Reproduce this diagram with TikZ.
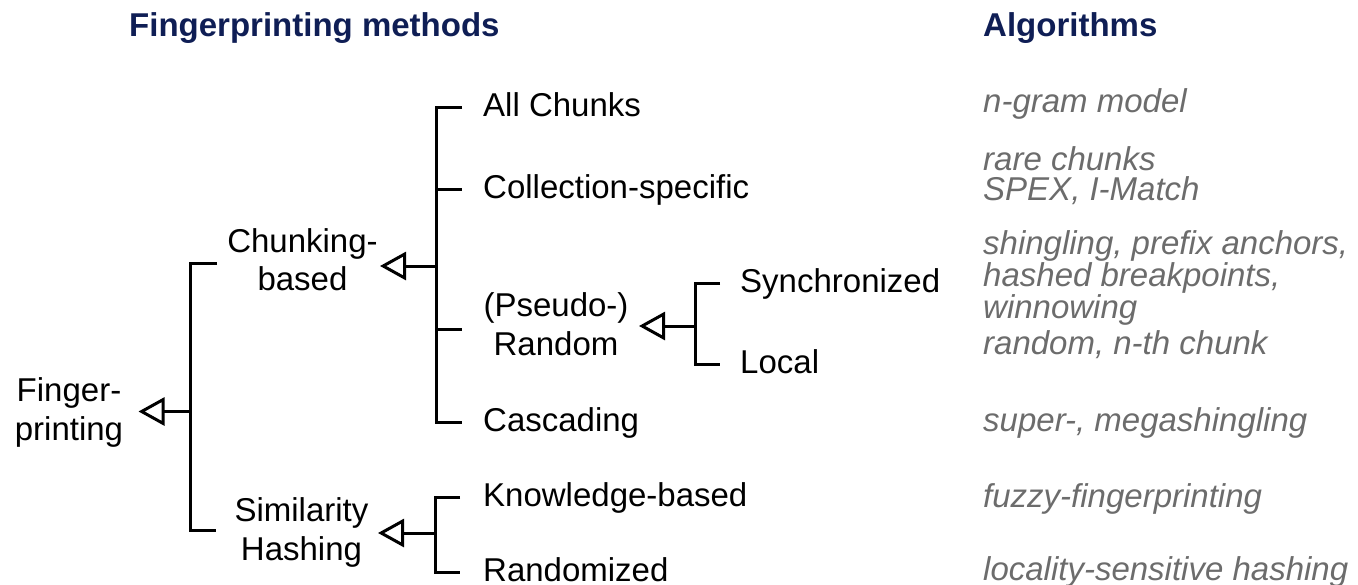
\documentclass[tikz,border=0pt]{standalone}
\usepackage{fontspec}
\setmainfont{Liberation Sans}
\usetikzlibrary{arrows.meta}
\definecolor{navy}{RGB}{15,30,85}
\definecolor{algo}{RGB}{108,108,108}
\begin{document}
\begin{tikzpicture}[x=1pt,y=-1pt,
  item/.style={anchor=west,inner sep=0pt,font=\fontsize{33}{38.3}\selectfont,text height=19pt,text depth=0pt},
  group/.style={anchor=base,inner sep=0pt,align=center,font=\fontsize{33}{38.3}\selectfont},
  algtxt/.style={anchor=base west,inner sep=0pt,align=left,text=algo,font=\fontsize{33}{29.8}\selectfont\itshape},
  title/.style={anchor=base west,inner sep=0pt,text=navy,font=\fontsize{33}{38}\selectfont\bfseries},
  br/.style={line width=3pt,line join=miter},
  arr/.style={line width=3pt,-{Triangle[open,length=26pt,width=28pt,line width=3pt]}}]
\useasboundingbox (0,0) rectangle (1358,584);

% titles
\node[title] (t1) at (129,36) {Fingerprinting methods};
\node[title] (t2) at (983,36) {Algorithms};

% method nodes (base = baseline of the last line)
\node[group] (fp) at (69,440) {Finger-\\printing};
\node[group] (chunk) at (302.5,290.7) {Chunking-\\based};
\node[group] (sim) at (301.5,560) {Similarity\\Hashing};
\node[group] (rnd) at (556,355) {(Pseudo-)\\Random};
\node[item] (ac) at (483,107) {All Chunks};
\node[item] (coll) at (483,189) {Collection-specific};
\node[item] (cas) at (483,422) {Cascading};
\node[item] (syn) at (740,283) {Synchronized};
\node[item] (loc) at (740,364) {Local};
\node[item] (kb) at (483,497) {Knowledge-based};
\node[item] (rz) at (483,572) {Randomized};

% algorithms
\node[algtxt] (a1) at (983,112) {n-gram model};
\node[algtxt] (a2) at (983,200) {rare chunks\\SPEX, I-Match};
\node[algtxt] (a3) at (983,318.3) {shingling, prefix anchors,\\hashed breakpoints,\\winnowing};
\node[algtxt] (a4) at (983,354) {random, n-th chunk};
\node[algtxt] (a5) at (983,431) {super-, megashingling};
\node[algtxt] (a6) at (983,507) {fuzzy-fingerprinting};
\node[algtxt] (a7) at (983,580.5) {locality-sensitive hashing};

% junctions, stub ends and arrow tips
\coordinate (jF) at (190,411.5);
\coordinate (sF1) at (217,263);
\coordinate (sF2) at (216,530);
\coordinate (tF) at (138.5,411.5);
\coordinate (jC) at (436,266);
\coordinate (sR) at (462,329);
\coordinate (tC) at (380,266);
\coordinate (jR) at (695,326);
\coordinate (tR) at (639,326);
\coordinate (jS) at (435.5,533);
\coordinate (tS) at (378,533);

% Fingerprinting bracket
\draw[br] (sF1) -| (jF) |- (sF2);
\draw[arr] (jF) -- (tF);

% Chunking bracket
\draw[br,shorten <=21pt,shorten >=21pt] (ac.west) -| (jC) |- (cas.west);
\draw[br,shorten >=21pt] (jC |- coll.west) -- (coll.west);
\draw[br] (jC |- sR) -- (sR);
\draw[arr] (jC) -- (tC);

% Random bracket
\draw[br,shorten <=20pt,shorten >=20pt] (syn.west) -| (jR) |- (loc.west);
\draw[arr] (jR) -- (tR);

% Similarity bracket
\draw[br,shorten <=23pt,shorten >=23pt] (kb.west) -| (jS) |- (rz.west);
\draw[arr] (jS) -- (tS);
\end{tikzpicture}
\end{document}
